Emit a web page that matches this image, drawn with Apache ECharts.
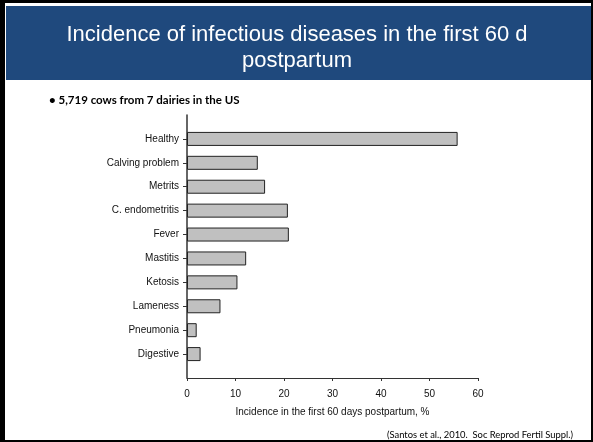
<!DOCTYPE html>
<html>
<head>
<meta charset="utf-8">
<script src="https://cdn.jsdelivr.net/npm/echarts@6/dist/echarts.min.js"></script>
<style>
  html, body { margin: 0; padding: 0; background: #fff; }
  #main { width: 593px; height: 442px; }
</style>
</head>
<body>
<div id="main"></div>
<script>
// categories top to bottom
const diseases = ['Healthy', 'Calving problem', 'Metrits', 'C. endometritis', 'Fever',
  'Mastitis', 'Ketosis', 'Lameness', 'Pneumonia', 'Digestive'];
// incidence, %
const incidence = [55.8, 14.6, 16.1, 20.8, 21.0, 12.2, 10.4, 6.9, 2.0, 2.8];
const xTicks = [0, 10, 20, 30, 40, 50, 60];

// empty slot at both ends so the axis line runs past the first/last bar
const cats = [''].concat(diseases, ['']);
const vals = ['-'].concat(incidence, ['-']);
const lastIdx = cats.length - 1;

const myChart = echarts.init(document.getElementById('main'));

const option = {
  animation: false,
  backgroundColor: '#fff',
  graphic: [
    // slide frame
    { type: 'rect', shape: { x: 0, y: 0, width: 593, height: 442 }, style: { fill: '#000' }, z: -10 },
    { type: 'rect', shape: { x: 5, y: 3, width: 586, height: 437 }, style: { fill: '#fff' }, z: -9 },
    { type: 'rect', shape: { x: 6, y: 6, width: 585, height: 74 }, style: { fill: '#1f497d' }, z: -8 },
    {
      type: 'text', x: 297, y: 22, z: 10,
      style: {
        text: 'Incidence of infectious diseases in the first 60 d\npostpartum',
        fill: '#fff', font: '22px "Liberation Sans", Arial, sans-serif',
        align: 'center', verticalAlign: 'top', lineHeight: 26
      }
    },
    {
      type: 'text', x: 49, y: 94, z: 10,
      style: { text: '\u2022 5,719 cows from 7 dairies in the US', fill: '#000', font: 'bold 11.5px Lato, sans-serif' }
    },
    {
      type: 'text', x: 387, y: 430, z: 10,
      style: { text: '(Santos et al., 2010.  Soc Reprod Fertil Suppl.)', fill: '#000', font: '9.4px Lato, sans-serif' }
    }
  ],
  grid: { left: 187, right: 115, top: 115, bottom: 64 },
  xAxis: {
    type: 'value',
    min: 0,
    max: xTicks[xTicks.length - 1],
    interval: 10,
    name: 'Incidence in the first 60 days postpartum, %',
    nameLocation: 'middle',
    nameGap: 29,
    nameTextStyle: { color: '#111', fontSize: 10, fontFamily: 'Liberation Sans' },
    axisLine: { show: true, lineStyle: { color: '#333', width: 1 } },
    axisTick: { show: true, length: 3, lineStyle: { color: '#333' } },
    axisLabel: { color: '#111', fontSize: 10, fontFamily: 'Liberation Sans', margin: 11 },
    splitLine: { show: false }
  },
  yAxis: {
    type: 'category',
    inverse: true,
    boundaryGap: false,
    data: cats,
    axisLine: { show: true, lineStyle: { color: '#333', width: 1.5 } },
    axisTick: {
      show: true, length: 4, lineStyle: { color: '#333' },
      interval: function (idx) { return idx > 0 && idx < lastIdx; }
    },
    axisLabel: {
      color: '#111', fontSize: 10, fontFamily: 'Liberation Sans', margin: 8,
      interval: function (idx) { return idx > 0 && idx < lastIdx; }
    },
    splitLine: { show: false }
  },
  series: [
    {
      type: 'bar',
      barWidth: 14,
      data: vals,
      itemStyle: { color: '#c0c0c0', borderColor: '#222', borderWidth: 1 }
    }
  ]
};
myChart.setOption(option);
</script>
</body>
</html>
